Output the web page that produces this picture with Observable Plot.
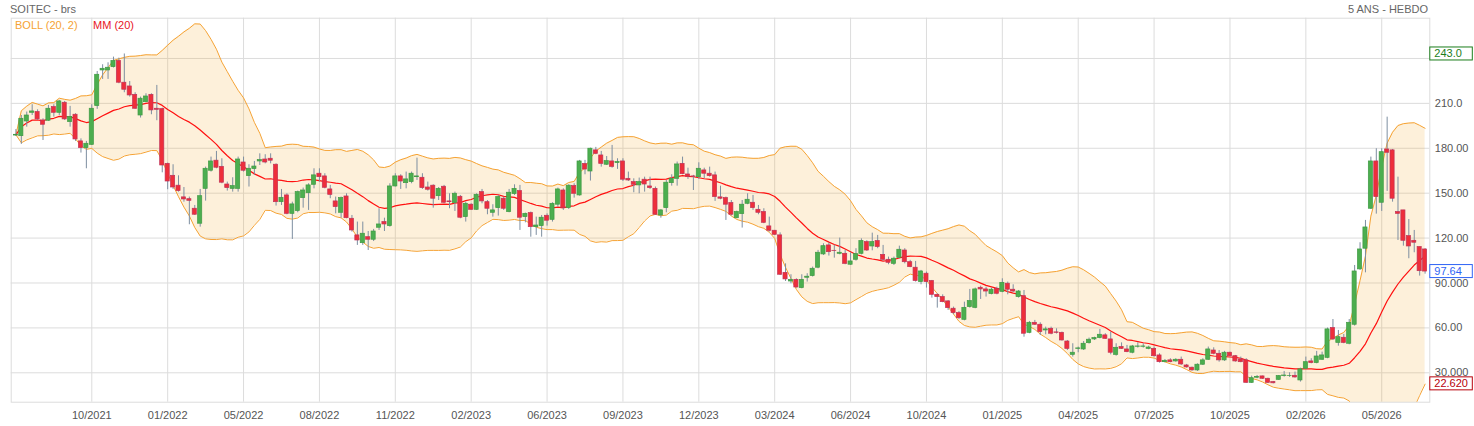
<!DOCTYPE html>
<html><head><meta charset="utf-8">
<script src="https://cdn.jsdelivr.net/npm/d3@7"></script>
<script src="https://cdn.jsdelivr.net/npm/@observablehq/plot@0.6"></script>
<style>
body{margin:0;background:#fff;font-family:"Liberation Sans",Arial,sans-serif;}
#wrap{position:relative;width:1474px;height:426px;overflow:hidden;}
.t{position:absolute;font-size:11px;line-height:12px;white-space:nowrap;z-index:2;}
</style></head><body><div id="wrap">
<div class="t" style="left:10px;top:3px;color:#666">SOITEC - brs</div>
<div class="t" style="right:46px;top:3px;color:#666">5 ANS - HEBDO</div>
<div class="t" style="left:15px;top:19px;color:#f5a233">BOLL (20, 2)</div>
<div class="t" style="left:93px;top:19px;color:#e8141e">MM (20)</div>
</div>
<script>
const opens = [
188.5,188.1,197.9,203.7,204.2,198.6,198.4,207.5,203.7,210.4,
197.5,202.4,184.6,180.1,182.3,208.2,232.0,232.0,234.2,238.3,
223.8,221.3,215.7,201.9,210.8,215.7,206.4,206.2,169.6,161.6,
155.0,147.2,146.0,139.6,129.6,152.9,165.0,171.7,167.6,155.8,
152.9,152.9,170.5,161.4,166.1,171.2,172.5,173.0,169.0,144.0,
148.5,136.2,138.0,146.7,150.0,155.6,163.0,161.2,152.5,144.5,
136.9,147.8,132.9,121.8,116.6,120.6,118.9,126.9,130.7,128.0,
154.5,161.2,156.7,157.4,160.7,160.3,153.8,155.0,148.0,154.3,
144.5,143.4,147.6,134.0,142.3,138.9,150.7,144.0,136.9,140.0,
146.3,137.4,149.4,151.4,134.0,136.7,127.3,128.0,134.9,132.2,
142.3,151.8,140.0,154.7,148.5,169.6,164.5,178.6,175.2,169.0,
171.2,170.1,171.2,159.6,157.4,155.2,159.0,154.5,152.9,135.1,
140.0,156.7,159.6,169.6,162.5,161.2,160.7,165.2,163.0,161.9,
147.2,146.7,143.4,133.3,136.0,142.9,143.6,138.9,137.4,127.8,
124.9,121.8,96.8,91.0,92.1,86.6,93.5,94.6,100.2,109.1,
115.1,111.5,109.5,109.5,102.2,105.5,109.5,117.3,114.4,118.0,
108.8,105.5,102.8,106.8,111.7,103.9,100.2,90.6,96.2,91.3,
82.1,80.6,77.7,72.8,69.9,65.4,73.9,73.4,86.8,85.7,
82.6,86.1,84.1,89.5,85.5,80.6,81.2,56.7,63.4,62.1,
58.3,59.4,57.0,56.7,50.9,42.0,46.0,45.6,49.8,52.3,
53.2,55.0,52.3,42.0,47.2,45.6,43.4,47.4,47.4,46.0,
46.0,41.6,37.1,38.3,37.6,38.7,34.9,33.4,31.6,35.4,
38.7,44.9,42.7,38.3,43.4,41.1,38.9,38.3,23.3,26.7,
27.6,26.0,23.8,25.3,27.8,27.8,28.0,24.9,32.7,37.6,
36.5,38.7,40.0,59.9,50.0,53.4,49.4,62.1,99.1,112.9,
139.6,171.2,143.6,179.2,178.6,137.4,138.5,121.3,118.2,114.0,
112.4];
const highs = [
192.5,201.9,204.2,209.1,205.7,199.7,208.6,209.1,212.0,211.3,
208.0,203.1,186.3,184.6,209.1,231.3,235.8,237.1,240.9,240.2,
243.0,224.6,217.1,214.2,216.4,216.4,222.0,206.8,170.1,169.0,
161.6,153.8,147.4,141.8,152.5,167.4,174.1,177.9,173.0,157.4,
160.3,174.1,174.1,169.0,171.2,176.3,175.7,176.3,169.6,152.5,
149.6,144.0,151.4,153.4,156.3,166.3,166.3,163.0,155.2,147.4,
147.4,149.6,135.1,130.7,130.7,124.4,125.8,139.6,133.3,156.3,
163.0,162.3,164.1,164.1,173.4,163.0,157.4,155.6,153.8,155.2,
149.6,150.7,148.5,144.0,142.9,149.6,152.5,145.1,142.3,148.5,
147.4,152.5,155.6,155.2,136.7,137.4,134.0,135.1,136.2,143.6,
153.4,152.9,155.6,156.3,171.9,171.9,180.1,180.6,177.9,174.5,
181.9,173.0,173.0,164.1,159.6,160.1,160.7,160.7,154.1,138.9,
158.5,162.3,170.8,174.1,166.7,161.9,170.3,166.7,167.4,164.1,
154.7,147.4,145.1,138.0,145.1,149.6,148.5,141.8,139.6,134.0,
125.1,123.5,102.8,95.5,92.8,95.5,96.2,100.6,111.8,116.2,
116.6,115.1,120.0,111.8,110.2,112.9,119.5,118.2,123.3,121.8,
115.1,107.3,107.3,114.6,112.9,105.1,104.4,98.4,97.3,91.7,
82.8,82.1,78.3,73.9,71.0,77.2,85.7,86.6,87.9,87.2,
86.6,87.2,92.8,90.6,88.8,85.0,85.0,64.3,65.0,63.4,
60.5,60.5,59.4,57.2,51.6,49.4,47.2,50.9,53.2,53.8,
59.0,56.1,57.2,49.4,50.0,48.3,48.3,50.0,49.4,47.8,
47.2,42.7,38.9,39.4,39.4,40.5,35.6,33.8,36.0,39.4,
47.2,46.7,44.9,44.3,43.8,41.6,40.5,39.4,27.8,28.2,
27.8,26.4,24.2,28.2,30.9,30.0,30.5,33.1,40.5,39.4,
44.3,43.8,59.9,65.6,58.3,55.6,65.6,101.7,116.9,131.8,
174.1,179.7,179.7,200.8,179.2,160.7,138.5,132.4,125.1,114.0,
112.9];
const lows = [
188.0,182.6,194.1,201.9,198.6,185.2,197.9,200.8,201.9,198.6,
194.1,184.6,176.8,166.3,181.9,206.0,226.0,226.0,233.6,223.1,
217.1,214.2,206.0,200.2,210.4,202.4,198.4,163.6,152.3,152.5,
150.7,144.0,128.9,135.1,127.3,144.7,164.1,166.3,156.3,151.4,
150.7,150.7,164.1,154.1,161.9,168.5,169.6,169.6,141.4,141.8,
135.6,119.1,136.9,140.0,138.5,152.9,157.4,152.9,146.3,136.2,
133.3,132.9,124.0,115.1,115.1,111.7,117.7,125.1,124.4,127.3,
154.1,152.5,152.9,156.3,158.5,152.5,151.4,140.0,145.1,142.9,
139.6,137.8,132.9,130.7,138.5,138.5,142.9,135.6,134.0,134.7,
138.5,136.9,148.5,125.1,130.2,120.6,121.8,120.6,128.0,130.7,
140.7,138.5,139.1,146.7,148.0,162.3,158.1,175.7,167.4,168.5,
166.7,165.9,157.8,157.8,150.3,149.6,150.7,152.5,135.1,133.3,
136.9,154.7,154.7,162.3,159.2,151.8,159.2,159.6,160.7,144.5,
145.6,131.8,134.7,132.9,126.7,142.3,138.5,135.6,129.6,124.0,
121.8,95.0,91.0,89.5,86.6,86.1,90.6,94.0,99.5,108.4,
108.0,106.6,108.8,102.2,101.7,104.6,108.8,111.1,111.5,112.9,
104.6,102.2,101.7,106.2,102.8,100.2,90.6,88.8,86.6,79.9,
73.2,76.8,71.7,68.8,65.6,64.7,73.2,72.8,79.0,80.6,
82.1,82.1,83.5,82.1,83.5,79.9,53.8,56.1,61.6,54.9,
55.4,55.4,55.9,51.2,44.9,40.5,43.4,44.9,49.2,51.6,
52.7,52.3,42.0,41.1,45.6,43.4,42.7,46.5,46.5,45.4,
40.5,36.5,36.7,36.7,37.1,34.9,33.1,31.1,30.9,34.9,
38.3,42.0,37.1,37.6,40.5,37.1,36.7,23.0,22.9,26.0,
25.6,22.9,22.62,24.9,27.1,26.9,26.4,23.8,32.3,36.0,
36.0,38.3,39.4,51.6,47.8,49.4,48.7,61.2,98.4,96.8,
139.1,136.0,137.8,151.2,144.0,118.4,114.6,106.2,110.2,94.6,
95.9];
const closes = [
189.0,199.7,201.9,204.6,199.3,195.7,206.4,203.7,211.3,199.3,
200.8,185.9,180.1,183.0,206.4,229.1,233.1,233.8,238.3,223.8,
219.1,215.3,206.4,213.1,214.6,205.3,205.7,168.5,157.8,153.8,
151.4,145.8,144.9,135.6,148.0,166.3,171.2,167.0,157.0,153.4,
154.7,172.5,165.0,166.3,167.8,172.1,170.5,171.7,144.0,146.9,
136.2,142.5,150.7,151.8,155.2,161.9,160.7,153.6,148.9,140.7,
146.7,133.3,125.1,118.4,122.9,118.9,124.4,129.1,129.1,154.5,
161.2,157.8,159.2,163.0,161.2,153.4,152.3,146.3,152.9,143.6,
144.0,149.6,133.6,142.9,138.9,148.9,144.5,139.6,138.5,147.4,
139.6,150.3,152.9,133.6,136.2,127.3,128.4,133.6,131.6,142.9,
152.5,140.0,155.0,149.6,171.2,165.8,179.7,176.3,169.6,171.4,
167.6,170.8,159.0,158.5,155.6,157.4,155.8,153.4,135.6,138.5,
157.0,159.6,169.2,162.7,161.0,161.0,166.3,163.0,161.4,147.4,
146.3,142.3,135.6,137.4,142.3,145.6,140.0,136.9,130.2,124.9,
122.2,95.5,92.4,92.1,87.0,92.1,94.2,99.5,110.2,114.6,
110.6,111.3,110.2,102.8,104.4,109.3,118.0,111.7,117.3,114.0,
105.5,103.5,106.2,112.2,103.9,100.6,91.3,97.7,90.6,82.1,
80.6,77.2,73.2,69.9,66.5,73.4,77.9,85.7,85.7,84.3,
85.5,82.8,90.1,85.5,84.3,84.3,56.1,63.4,62.1,57.2,
59.0,56.1,56.7,51.6,46.0,43.4,46.3,49.4,52.1,53.2,
55.4,52.7,43.4,46.7,46.0,43.8,47.6,47.6,47.6,46.9,
41.1,37.1,38.0,37.1,38.7,35.6,33.6,31.6,35.4,38.3,
45.6,42.7,38.3,43.4,41.1,37.6,37.1,23.3,26.4,27.3,
26.0,23.3,23.0,27.8,28.2,27.9,26.9,32.3,37.1,36.5,
40.9,41.6,59.0,52.3,53.8,50.0,63.4,97.7,112.4,127.1,
171.2,147.4,177.4,177.0,146.3,136.2,118.2,114.4,116.9,97.9,
97.64];

// x-axis: every 14th weekly bar is labelled
const xTickIdx = [14,28,42,56,70,84,98,112,126,140,154,168,182,196,210,224,238,252];
const xTickLabels = ["10/2021","01/2022","05/2022","08/2022","11/2022","02/2023","06/2023","09/2023","12/2023","03/2024","06/2024","10/2024","01/2025","04/2025","07/2025","10/2025","02/2026","05/2026"];
const yGridValues = [30,60,90,120,150,180,210,240];
const yTickValues = [210,180,150,120,90,60,30];
const yTickLabels = ["210.0","180.00","150.00","120.00","90.000","60.00","30.000"];
const boxValues = [243.0, 97.64, 22.62];
const boxLabels = ["243.0","97.64","22.620"];
const boxColors = ["#1b7d1b","#2f64f5","#b8000a"];

const N = closes.length;
const candles = closes.map((c,i)=>({i, o:opens[i], h:highs[i], l:lows[i], c}));
// Bollinger (20,2) and MM(20) from closes (expanding window at start)
const ind = closes.map((c,i)=>{
  const w = closes.slice(Math.max(0,i-19), i+1);
  const m = d3.mean(w);
  const sd = Math.sqrt(d3.mean(w, v=>(v-m)*(v-m)));
  return {i, ma:m, up:m+2*sd, lo:m-2*sd};
});
const xLab = new Map(xTickIdx.map((d,k)=>[d,xTickLabels[k]]));
const yLab = new Map(yTickValues.map((d,k)=>[d,yTickLabels[k]]));
const GREEN="#4cae4f", GREEN_S="#3f9a43", RED="#ee2e3a", RED_S="#c03258";

const W=1474, H=426, mL=10.7, mR=44.7, mT=17.7, mB=24.3;
const chart = Plot.plot({
  width:W, height:H, marginLeft:mL, marginRight:mR, marginTop:mT, marginBottom:mB,
  x:{type:"linear", domain:[-0.87, N-1+0.87]},
  y:{type:"linear", domain:[10.36, 266.9]},
  color:{type:"identity"},
  style:{fontFamily:'"Liberation Sans", Arial, sans-serif', fontSize:"11px", background:"#fff", color:"#555", overflow:"visible"},
  marks:[
    Plot.gridY(yGridValues, {stroke:"#dcdcdc", strokeOpacity:1}),
    Plot.gridX(xTickIdx, {stroke:"#dcdcdc", strokeOpacity:1}),
    Plot.frame({stroke:"#dcdcdc"}),
    Plot.areaY(ind, {x:"i", y1:"lo", y2:"up", fill:"#f5a623", fillOpacity:0.17, clip:true}),
    Plot.line(ind, {x:"i", y:"up", stroke:"#f5a233", strokeWidth:1, clip:true}),
    Plot.line(ind, {x:"i", y:"lo", stroke:"#f5a233", strokeWidth:1, clip:true}),
    Plot.line(ind, {x:"i", y:"ma", stroke:"#ff1010", strokeWidth:1.2, clip:true}),
    Plot.ruleX(candles, {x:"i", y1:"l", y2:"h", stroke:"#7d8ea0", strokeWidth:1}),
    Plot.rect(candles, {x1:d=>d.i-0.38, x2:d=>d.i+0.38, y1:"o", y2:"c",
      fill:d=>d.c>=d.o?GREEN:RED, stroke:d=>d.c>=d.o?GREEN_S:RED_S, strokeWidth:0.7}),
    Plot.axisX(xTickIdx, {tickSize:0, tickPadding:9, tickFormat:d=>xLab.get(d), fill:"#555", label:null}),
    Plot.axisY(yTickValues, {anchor:"right", tickSize:0, tickPadding:5, tickFormat:d=>yLab.get(d), fill:"#555", label:null})
  ]
});
const ys = chart.scale("y");
const g = d3.select(chart).append("g").attr("font-size","11px").attr("text-anchor","start");
boxValues.forEach((v,k)=>{
  const y = ys.apply(v);
  g.append("rect").attr("x", W-mR+0.5).attr("y", y-6.5).attr("width", 42.5).attr("height", 13)
    .attr("fill","#fff").attr("stroke", boxColors[k]).attr("stroke-width",1);
  g.append("text").attr("x", W-mR+5).attr("y", y).attr("dy","0.36em").attr("text-anchor","start")
    .attr("fill", boxColors[k]).text(boxLabels[k]);
});
document.getElementById("wrap").appendChild(chart);
chart.style.position="absolute"; chart.style.left="0"; chart.style.top="0";
</script>
</body></html>
